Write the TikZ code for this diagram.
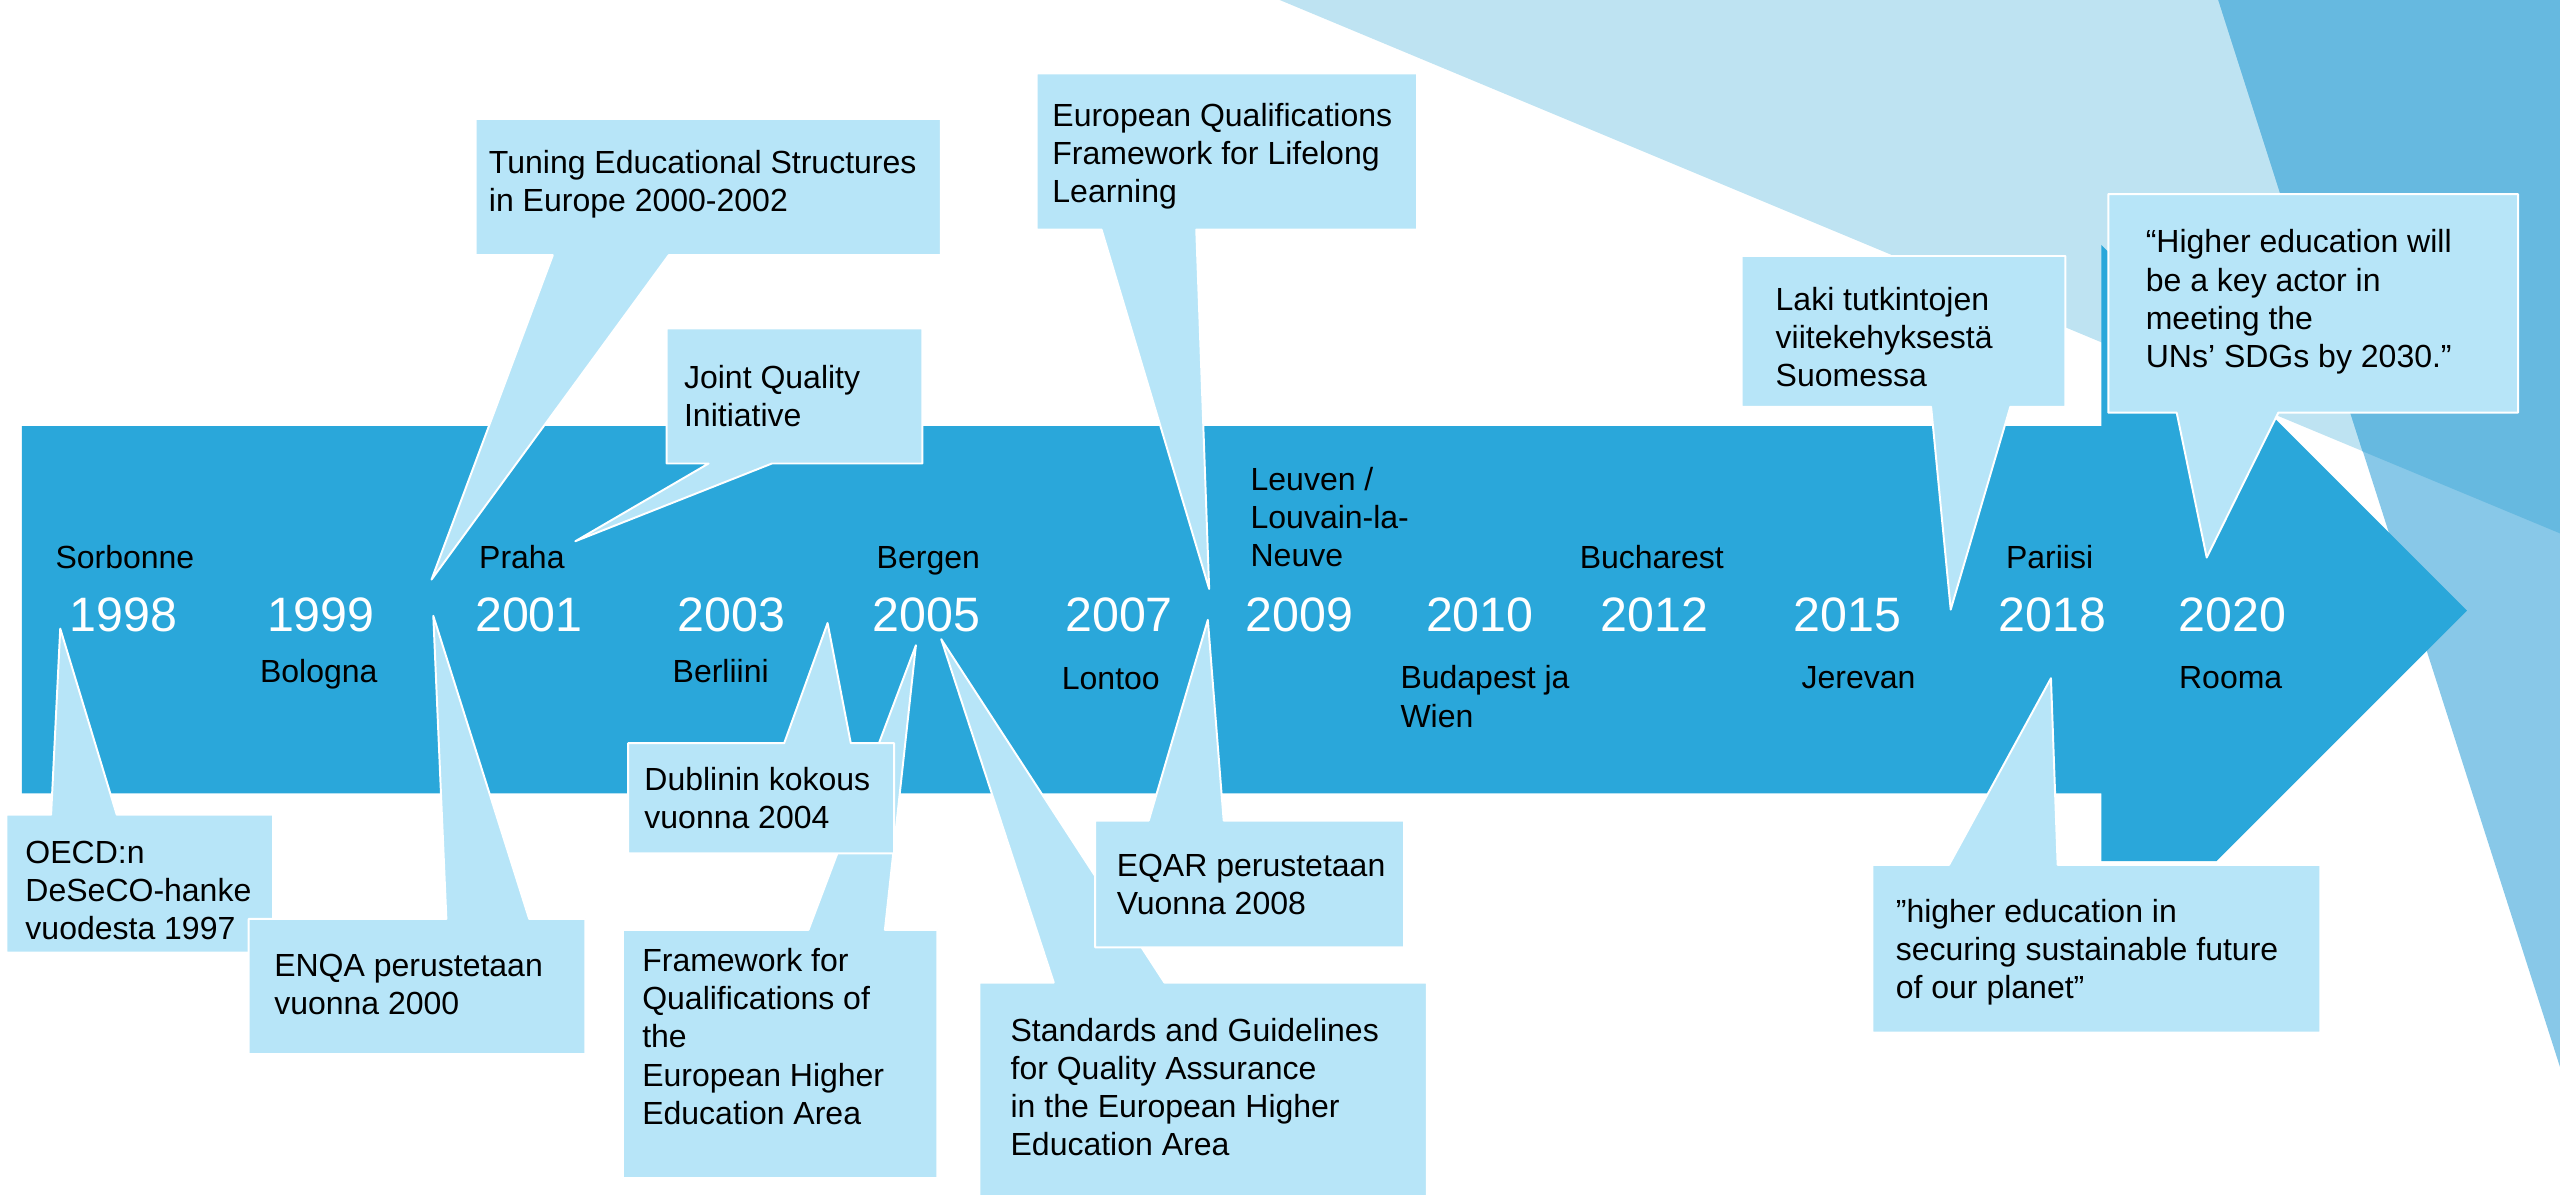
\documentclass[tikz,border=0pt]{standalone}
\usepackage{fontspec}
\setmainfont{Liberation Sans}
\definecolor{arrowblue}{HTML}{2AA7DA}
\definecolor{callfill}{HTML}{B7E5F8}
\definecolor{bgA}{HTML}{BEE3F2}
\definecolor{bgB}{HTML}{88C8E8}
\definecolor{bgAB}{HTML}{66B9E0}
\newcommand\mlines[1]{\vtop{\baselineskip=11.7pt\lineskip=0pt\lineskiplimit=-20pt #1}}
\newcommand\callTop[8]{\path[callout] (#1,#2) -- (#5,#2) -- (#7,#8) -- (#6,#2) -- (#3,#2) -- (#3,#4) -- (#1,#4) -- cycle;}
\newcommand\callBot[8]{\path[callout] (#1,#2) -- (#3,#2) -- (#3,#4) -- (#6,#4) -- (#7,#8) -- (#5,#4) -- (#1,#4) -- cycle;}
\tikzset{
  callout/.style={fill=callfill, draw=white, line width=0.6pt, line join=round},
  lbl/.style={anchor=base west, inner sep=0pt, outer sep=0pt, font=\fontsize{9.8}{11.7}\selectfont, text=black},
  yr/.style={anchor=base, inner sep=0pt, outer sep=0pt, font=\fontsize{14.8}{17}\selectfont, text=white},
}
\begin{document}
\begin{tikzpicture}[x=0.5pt,y=-0.5pt]
\useasboundingbox (0,0) rectangle (1568,731.9);
% background triangles
\fill[bgA] (783.8,0) -- (1568,0) -- (1568,326.7) -- cycle;
\fill[bgB] (1358.7,0) -- (1568,0) -- (1568,653.6) -- cycle;
\fill[bgAB] (1358.7,0) -- (1568,0) -- (1568,326.7) -- (1447,276.4) -- cycle;
% main arrow
\fill[arrowblue] (13.4,261) -- (1287,261) -- (1287,150) -- (1511,374) -- (1357.5,527.5) -- (1287,527.5) -- (1287,486) -- (13.4,486) -- cycle;
% callouts above
\callBot{291.4}{72.9}{576.2}{156.3}{338.6}{409.6}{264.3}{355}
\callBot{408.3}{201.2}{565}{283.9}{434}{472.8}{352.4}{331.5}
\callBot{635}{45}{868}{140.6}{674.7}{732.7}{740.6}{360.7}
\callBot{1066.8}{156.8}{1265}{249.2}{1182.8}{1231.3}{1194.8}{373.4}
\callBot{1291.3}{118.9}{1542.3}{252.7}{1333.2}{1395.5}{1351.6}{341.5}
% callouts below
\callTop{3.9}{499}{167.2}{583.4}{31.3}{71.5}{36.9}{385}
\callTop{152.3}{562.8}{358.5}{645.6}{273.4}{324.1}{265.4}{377.2}
\callTop{381.5}{569.5}{574.1}{721.6}{495.2}{542}{561}{395.2}
\callTop{384.7}{455.2}{547.6}{522.7}{480.3}{521.1}{506.9}{381.6}
\callTop{599.8}{601.8}{873.9}{734}{645.4}{713.2}{576.5}{391.5}
\callTop{670.8}{502.6}{860}{580.3}{703.6}{749.5}{739.8}{379.7}
\callTop{1146.8}{529.7}{1421.2}{632.5}{1193.8}{1260.3}{1256.2}{415.4}
% years
\node[yr] (y1998) at (75.6,387) {1998};
\node[yr] (y1999) at (196.5,387) {1999};
\node[yr] (y2001) at (324,387) {2001};
\node[yr] (y2003) at (448,387) {2003};
\node[yr] (y2005) at (567.6,387) {2005};
\node[yr] (y2007) at (685.4,387) {2007};
\node[yr] (y2009) at (796,387) {2009};
\node[yr] (y2010) at (906.4,387) {2010};
\node[yr] (y2012) at (1013.3,387) {2012};
\node[yr] (y2015) at (1131.7,387) {2015};
\node[yr] (y2018) at (1257,387) {2018};
\node[yr] (y2020) at (1367.3,387) {2020};
% places
\node[lbl] (sorbonne) at (34,348) {Sorbonne};
\node[lbl] (praha) at (293.5,348) {Praha};
\node[lbl] (bergen) at (537,348) {Bergen};
\node[lbl] (leuven) at (766,300.2) {\mlines{\hbox{Leuven /}\hbox{Louvain-la-}\hbox{Neuve}}};
\node[lbl] (bucharest) at (967.6,348.3) {Bucharest};
\node[lbl] (pariisi) at (1228.7,348) {Pariisi};
\node[lbl] (bologna) at (159.3,418) {Bologna};
\node[lbl] (berliini) at (412,418) {Berliini};
\node[lbl] (lontoo) at (650.4,422.5) {Lontoo};
\node[lbl] (budapest) at (857.8,422) {\mlines{\hbox{Budapest ja}\hbox{Wien}}};
\node[lbl] (jerevan) at (1103.5,422) {Jerevan};
\node[lbl] (rooma) at (1334.7,422) {Rooma};
% callout texts
\node[lbl] (oecd) at (15.6,528.7) {\mlines{\hbox{OECD:n}\hbox{DeSeCO-hanke}\hbox{vuodesta 1997}}};
\node[lbl] (enqa) at (168,598) {\mlines{\hbox{ENQA perustetaan}\hbox{vuonna 2000}}};
\node[lbl] (tuning) at (299.5,106.3) {\mlines{\hbox{Tuning Educational Structures}\hbox{in Europe 2000-2002}}};
\node[lbl] (joint) at (419,238) {\mlines{\hbox{Joint Quality}\hbox{Initiative}}};
\node[lbl] (eqf) at (644.6,77.2) {\mlines{\hbox{European Qualifications}\hbox{Framework for Lifelong}\hbox{Learning}}};
\node[lbl] (fqehea) at (393.4,595) {\mlines{\hbox{Framework for}\hbox{Qualifications of}\hbox{the}\hbox{European Higher}\hbox{Education Area}}};
\node[lbl] (dublin) at (394.7,484.1) {\mlines{\hbox{Dublinin kokous}\hbox{vuonna 2004}}};
\node[lbl] (esg) at (619,637.8) {\mlines{\hbox{Standards and Guidelines}\hbox{for Quality Assurance}\hbox{in the European Higher}\hbox{Education Area}}};
\node[lbl] (eqar) at (684,536.6) {\mlines{\hbox{EQAR perustetaan}\hbox{Vuonna 2008}}};
\node[lbl] (laki) at (1087.6,189.9) {\mlines{\hbox{Laki tutkintojen}\hbox{viitekehyksestä}\hbox{Suomessa}}};
\node[lbl] (sdg) at (1314.3,154.9) {\mlines{\hbox{“Higher education will}\hbox{be a key actor in}\hbox{meeting the}\hbox{UNs’ SDGs by 2030.”}}};
\node[lbl] (planet) at (1161.2,564.8) {\mlines{\hbox{”higher education in}\hbox{securing sustainable future}\hbox{of our planet”}}};
\end{tikzpicture}
\end{document}
